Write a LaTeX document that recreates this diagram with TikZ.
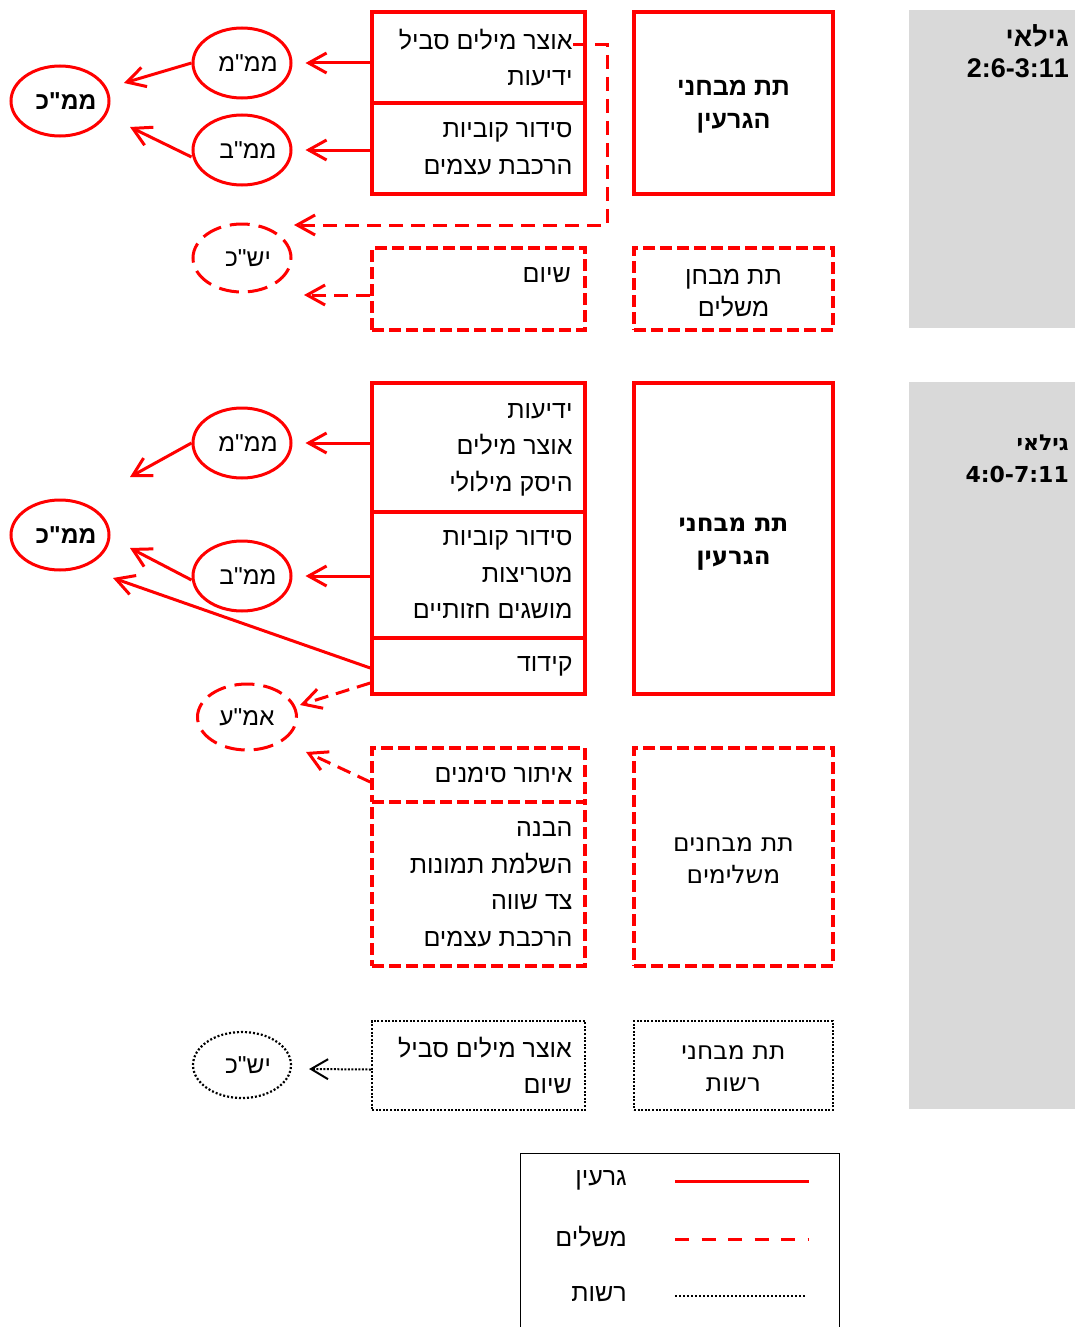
\documentclass[tikz,border=0pt]{standalone}
\usepackage{fontspec}
\usetikzlibrary{arrows.meta,shapes.geometric}
\newfontfamily\heb[Script=Hebrew]{Liberation Sans}
\newfontfamily\hebdv[Script=Hebrew]{DejaVu Sans}
\TeXXeTstate=1
\newcommand\RL[1]{\beginR#1\endR}
\newcommand\ET[1]{\kern12pt\RL{#1}}
\definecolor{agegray}{HTML}{D9D9D9}
\begin{document}
\begin{tikzpicture}[x=1pt,y=-1pt,
  cell/.style={draw=red,line width=3.5pt,inner sep=0pt,minimum width=213pt},
  dcell/.style={cell,dash pattern=on 12pt off 5pt},
  ocell/.style={draw=black,line width=2.2pt,dash pattern=on 2pt off 1.6pt,inner sep=0pt,minimum width=213pt},
  bigbox/.style={draw=red,line width=3.5pt,inner sep=0pt,minimum width=199pt},
  dbigbox/.style={bigbox,dash pattern=on 12pt off 5pt},
  obigbox/.style={bigbox,draw=black,line width=2.2pt,dash pattern=on 2pt off 1.6pt},
  ell/.style={ellipse,draw=red,line width=3pt,minimum width=98pt,minimum height=70pt,inner xsep=-14pt,inner ysep=-6pt,font=\heb\fontsize{24.5}{28}\selectfont},
  dell/.style={ell,dash pattern=on 20pt off 9pt},
  oell/.style={ell,draw=black,line width=2.2pt,dash pattern=on 2pt off 2pt},
  conn/.style={red,line width=3pt,-{Straight Barb[length=18pt,width=20pt]}},
  dconn/.style={conn,dash pattern=on 14pt off 8pt},
  oconn/.style={black,line width=2pt,dash pattern=on 2pt off 1.5pt,-{Straight Barb[length=17pt,width=20pt]}},
  txt/.style={font=\heb\fontsize{25}{36.5}\selectfont,align=right,anchor=east,inner sep=0pt},
  agetxt/.style={anchor=base east,inner sep=0pt},
  ttl/.style={align=center,inner sep=0pt,font=\heb\bfseries\fontsize{25}{33}\selectfont},
  ttlb/.style={align=center,inner sep=0pt,font=\hebdv\bfseries\fontsize{24.5}{33}\selectfont},
  ttln/.style={align=center,inner sep=0pt,font=\heb\fontsize{25}{32}\selectfont},
  ttlnb/.style={align=center,inner sep=0pt,font=\hebdv\fontsize{25}{32}\selectfont},
]
\useasboundingbox (0,0) rectangle (1075,1327);

% age bands
\fill[agegray] (909,10) rectangle (1075,328);
\fill[agegray] (909,382) rectangle (1075,1109);
\node[agetxt,font=\heb\bfseries\fontsize{27}{31}\selectfont] (age1a) at (1069,47) {\RL{גילאי}};
\node[agetxt,font=\heb\bfseries\fontsize{27}{31}\selectfont] (age1b) at (1069,78) {2:6-3:11};
\node[agetxt,font=\hebdv\bfseries\fontsize{22}{31}\selectfont] (age2a) at (1069,450) {\RL{גילאי}};
\node[agetxt,font=\hebdv\bfseries\fontsize{22}{31}\selectfont] (age2b) at (1069,482) {4:0-7:11};

% ---------- section 1 ----------
\node[bigbox,minimum height=182pt] (core1) at (733.5,103) {};
\node[ttl] (core1t) at ([yshift=-4pt]core1.center) {\RL{תת מבחני}\\\RL{הגרעין}};
\node[dbigbox,minimum height=82pt] (comp1) at (733.5,289) {};
\node[ttln] (comp1t) at ([yshift=-4pt]comp1.center) {\RL{תת מבחן}\\\RL{משלים}};

\node[cell,minimum height=91pt] (c1a) at (478.5,57.5) {};
\node[cell,minimum height=91pt] (c1b) at (478.5,148.5) {};
\node[dcell,minimum height=82pt] (c1c) at (478.5,289) {};
\node[txt] (t1a) at ([xshift=-14pt]c1a.east) {\RL{אוצר מילים סביל}\\\RL{ידיעות}};
\node[txt] (t1b) at ([xshift=-14pt]c1b.east) {\RL{סידור קוביות}\\\RL{הרכבת עצמים}};
\node[txt] (t1c) at (571,275) {\RL{שיום}};

\node[ell] (mmm1) at (242,63) {\ET{ממ"מ}};
\node[ell] (mmb1) at (242,150) {\ET{ממ"ב}};
\node[ell,font=\heb\bfseries\fontsize{24.5}{28}\selectfont] (mmk1) at (60,101) {\ET{ממ"כ}};
\node[dell,minimum height=68pt] (yshk1) at (242,258) {\ET{יש"כ}};

\coordinate (e1s) at (573,45);
\coordinate (e1e) at (294,225);
\coordinate (k1a) at (124,83);
\coordinate (k1b) at (130,127);

\draw[conn] (c1a.west |- mmm1.east) -- ([xshift=13pt]mmm1.east);
\draw[conn] (c1b.west |- mmb1.east) -- ([xshift=13pt]mmb1.east);
\draw[conn] (mmm1.west) -- (k1a);
\draw[conn] ([yshift=-7pt]mmb1.west) -- (k1b);
\draw[dconn] (e1s) -- (607,45) |- (e1e);
\draw[dconn] (c1c.west |- 0,295) -- (304,295);

% ---------- section 2 ----------
\node[bigbox,minimum height=311pt] (core2) at (733.5,538.5) {};
\node[ttlb] (core2t) at ([yshift=-6pt]core2.center) {\RL{תת מבחני}\\\RL{הגרעין}};
\node[dbigbox,minimum height=218pt] (comp2) at (733.5,857) {};
\node[ttlnb] (comp2t) at ([yshift=-4pt]comp2.center) {\RL{תת מבחנים}\\\RL{משלימים}};
\node[obigbox,minimum height=89pt] (opt2) at (733.5,1065.5) {};
\node[ttlnb] (opt2t) at ([yshift=-3pt]opt2.center) {\RL{תת מבחני}\\\RL{רשות}};

\node[cell,minimum height=129pt] (c2a) at (478.5,447.5) {};
\node[cell,minimum height=126pt] (c2b) at (478.5,575) {};
\node[cell,minimum height=56pt] (c2c) at (478.5,666) {};
\node[dcell,minimum height=54pt] (c2d) at (478.5,775) {};
\node[dcell,minimum height=164pt] (c2e) at (478.5,884) {};
\node[ocell,minimum height=89pt] (o2) at (478.5,1065.5) {};
\node[txt] (t2a) at ([xshift=-14pt,yshift=-2pt]c2a.east) {\RL{ידיעות}\\\RL{אוצר מילים}\\\RL{היסק מילולי}};
\node[txt] (t2b) at ([xshift=-14pt]c2b.east) {\RL{סידור קוביות}\\\RL{מטריצות}\\\RL{מושגים חזותיים}};
\node[txt] (t2c) at ([xshift=-14pt]c2c.east) {\RL{קידוד}};
\node[txt] (t2d) at ([xshift=-14pt]c2d.east) {\RL{איתור סימנים}};
\node[txt] (t2e) at ([xshift=-14pt]c2e.east) {\RL{הבנה}\\\RL{השלמת תמונות}\\\RL{צד שווה}\\\RL{הרכבת עצמים}};
\node[txt] (t2f) at ([xshift=-14pt]o2.east) {\RL{אוצר מילים סביל}\\\RL{שיום}};

\node[ell] (mmm2) at (242,443) {\ET{ממ"מ}};
\node[ell] (mmb2) at (242,576) {\ET{ממ"ב}};
\node[ell,font=\heb\bfseries\fontsize{24.5}{28}\selectfont] (mmk2) at (60,535) {\ET{ממ"כ}};
\node[dell,minimum width=99pt,minimum height=66pt] (ame) at (247,717) {\RL{אמ"ע}};
\node[oell,minimum height=66pt] (yshk2) at (242,1065) {\ET{יש"כ}};

\coordinate (k2a) at (130,477);
\coordinate (k2b) at (130,548);
\coordinate (k2c) at (113,578);
\coordinate (a2a) at (300,705);
\coordinate (a2b) at (306,752);

\draw[conn] (c2a.west |- mmm2.east) -- ([xshift=13pt]mmm2.east);
\draw[conn] (c2b.west |- mmb2.east) -- ([xshift=13pt]mmb2.east);
\draw[conn] (mmm2.west) -- (k2a);
\draw[conn] ([yshift=-4pt]mmb2.west) -- (k2b);
\draw[conn] ([yshift=-2pt]c2c.west) -- (k2c);
\draw[dconn] ([yshift=-17pt]c2c.west) -- (a2a);
\draw[dconn] ([yshift=-7pt]c2d.west) -- (a2b);
\draw[oconn] ([yshift=-4pt]o2.west) -- ([xshift=17pt,yshift=-4pt]yshk2.east);

% ---------- legend ----------
\draw[black,line width=1.5pt] (520.5,1327) -- (520.5,1153.5) -- (839.5,1153.5) -- (839.5,1327);
\node[txt] (lg1) at (627,1180) {\RL{גרעין}};
\node[txt] (lg2) at (627,1237) {\RL{משלים}};
\node[txt] (lg3) at (627,1294) {\RL{רשות}};
\draw[red,line width=3pt] (675,1181) -- (809,1181);
\draw[red,line width=3pt,dash pattern=on 14pt off 12.5pt] (675,1239) -- (809,1239);
\draw[black,line width=1.5pt,dash pattern=on 1.5pt off 2.5pt] (675,1296) -- (807,1296);
\end{tikzpicture}
\end{document}
